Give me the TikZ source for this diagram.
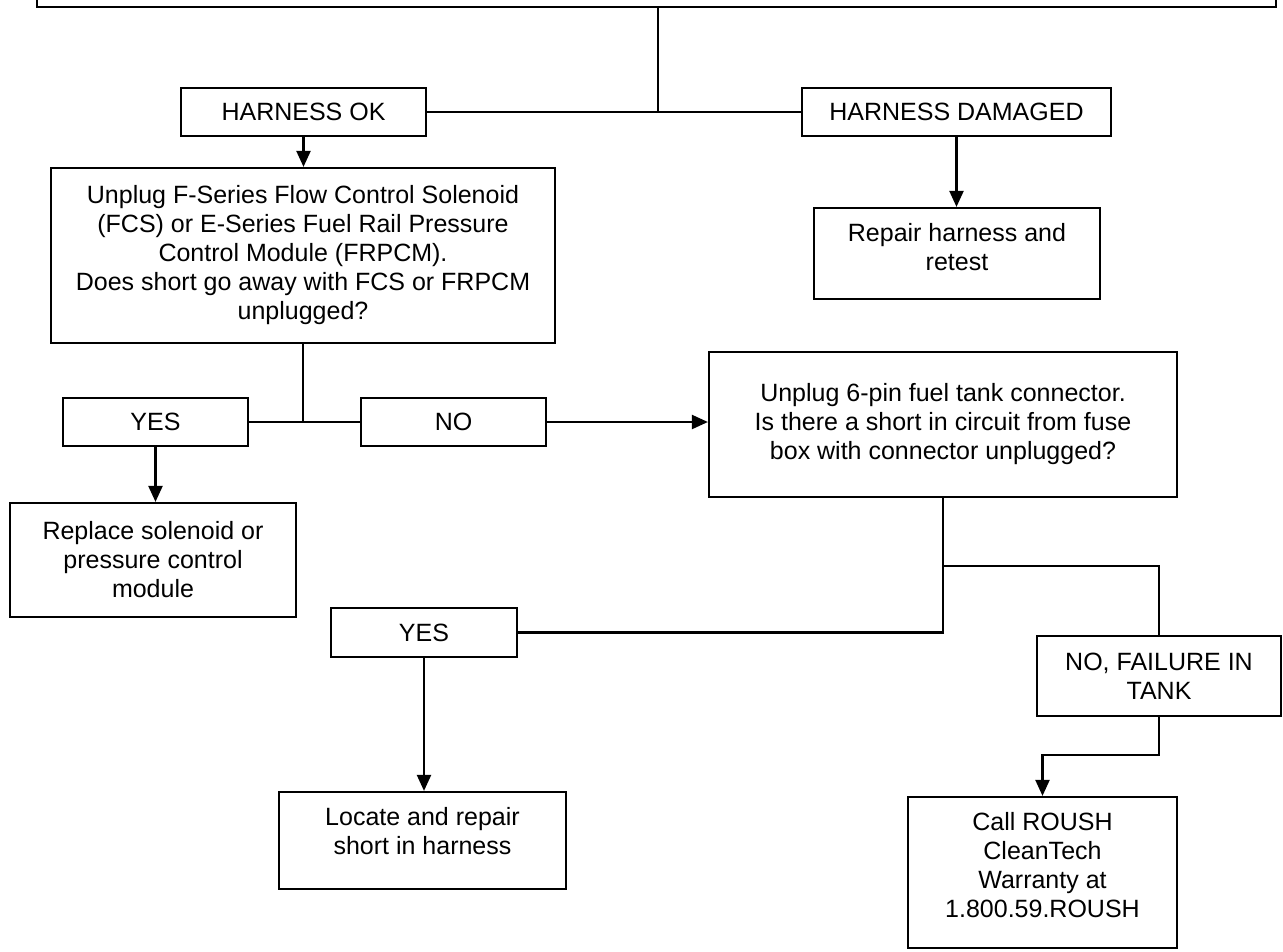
\documentclass[tikz,border=0pt]{standalone}
\usepackage{fontspec}
\setmainfont{Liberation Sans}
\usetikzlibrary{arrows.meta}
\begin{document}
\begin{tikzpicture}[x=1pt,y=-1pt,
  box/.style={draw, line width=2.2pt, inner sep=0pt, align=center,
    font=\fontsize{25}{29}\selectfont},
  conn/.style={line width=2.2pt},
  arr/.style={line width=2.2pt, -{Triangle[length=16pt,width=14pt]}}]
\useasboundingbox (0,0) rectangle (1283,951);
\clip (0,0) rectangle (1283,951);
% nodes
\node[box, minimum width=1239pt, minimum height=67pt] (top) at (656.5,-26.5) {};
\node[box, minimum width=245pt, minimum height=48pt] (hok) at (303.5,112) {HARNESS OK};
\node[box, minimum width=309pt, minimum height=48pt] (hdam) at (956.5,112) {HARNESS DAMAGED};
\node[box, minimum width=504pt, minimum height=175pt] (unplug) at (303,255.5)
  {Unplug F-Series Flow Control Solenoid\\(FCS) or E-Series Fuel Rail Pressure\\Control Module (FRPCM).\\Does short go away with FCS or FRPCM\\unplugged?};
\node[box, minimum width=286pt, minimum height=91pt, text depth=13pt] (repair) at (957,253.5)
  {Repair harness and\\retest};
\node[box, minimum width=185pt, minimum height=48pt] (yes1) at (155.5,422) {YES};
\node[box, minimum width=185pt, minimum height=48pt] (no1) at (453.5,422) {NO};
\node[box, minimum width=468pt, minimum height=145pt] (pin) at (943,424.5)
  {Unplug 6-pin fuel tank connector.\\Is there a short in circuit from fuse\\box with connector unplugged?};
\node[box, minimum width=286pt, minimum height=114pt] (rep) at (153,560)
  {Replace solenoid or\\pressure control\\module};
\node[box, minimum width=186pt, minimum height=49pt] (yes2) at (424,632.5) {YES};
\node[box, minimum width=287pt, minimum height=97pt, text depth=20pt] (locate) at (422.5,840.5)
  {Locate and repair\\short in harness};
\node[box, minimum width=244pt, minimum height=80pt] (nofail) at (1159,676)
  {NO, FAILURE IN\\TANK};
\node[box, minimum width=269pt, minimum height=151pt, text depth=16pt] (call) at (1042.5,872.5)
  {Call ROUSH\\CleanTech\\Warranty at\\1.800.59.ROUSH};
% junction coordinates
\coordinate (j1) at (658,112);
\coordinate (j2) at (303,422);
\coordinate (j3) at (943,566);
\coordinate (j4) at (1100,755);
% connectors
\draw[conn] (top.south -| j1) -- (j1);
\draw[conn] (hok.east) -- (hdam.west);
\draw[arr] (hok.south) -- (hok.south |- unplug.north);
\draw[arr] (hdam.south) -- (hdam.south |- repair.north);
\draw[conn] (unplug.south -| j2) -- (j2);
\draw[conn] (yes1.east) -- (no1.west);
\draw[arr] (no1.east) -- (no1.east -| pin.west);
\draw[arr] (yes1.south) -- (yes1.south |- rep.north);
\draw[conn] (pin.south) -- (pin.south |- yes2.east) -- (yes2.east);
\draw[conn] (j3) -| (nofail.north);
\draw[arr] (yes2.south) -- (yes2.south |- locate.north);
\draw[arr] (nofail.south) |- (j4) -| (call.north);
\end{tikzpicture}
\end{document}
